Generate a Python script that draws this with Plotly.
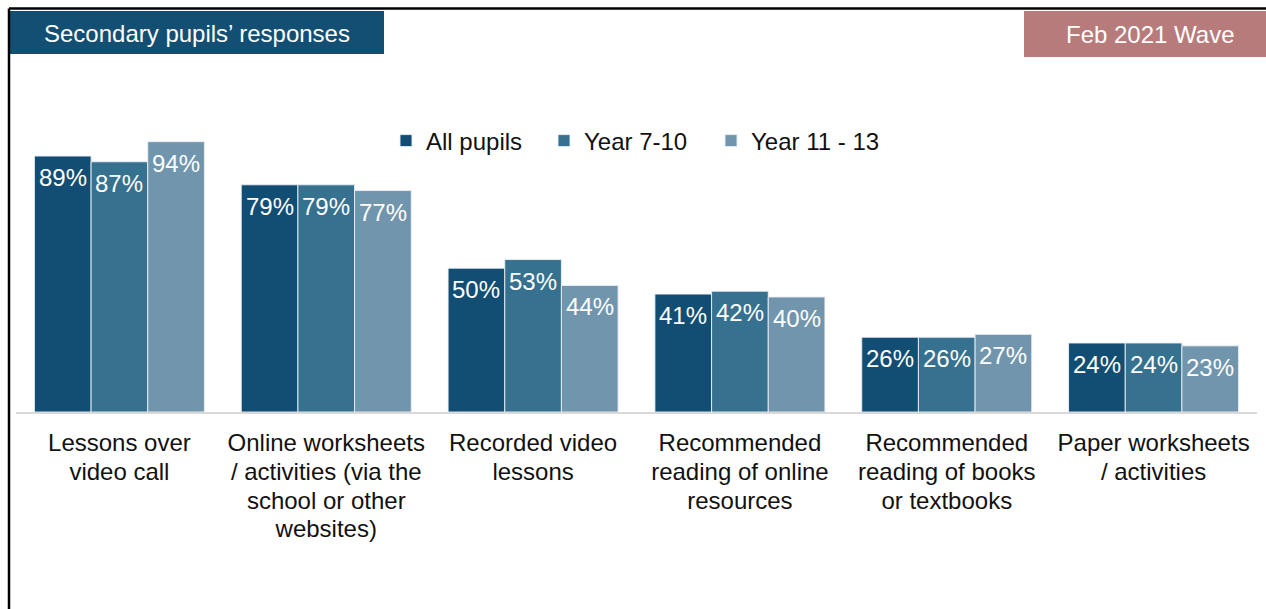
import plotly.graph_objects as go

# Survey categories (line breaks as shown on the axis)
categories = [
    "Lessons over<br>video call",
    "Online worksheets<br>/ activities (via the<br>school or other<br>websites)",
    "Recorded video<br>lessons",
    "Recommended<br>reading of online<br>resources",
    "Recommended<br>reading of books<br>or textbooks",
    "Paper worksheets<br>/ activities",
]

# Share of secondary pupils (%) per group
all_pupils = [89, 79, 50, 41, 26, 24]
year_7_10 = [87, 79, 53, 42, 26, 24]
year_11_13 = [94, 77, 44, 40, 27, 23]

series_names = ["All pupils", "Year 7-10", "Year 11 - 13"]
series_values = [all_pupils, year_7_10, year_11_13]
series_colors = ["#124e73", "#36718f", "#7095ad"]

FONT = "Liberation Sans, Arial, sans-serif"
W, H = 1266, 609

# plot area in pixels
X0, X1 = 16, 1257
Y_BASE, Y_TOP = 412, 124.4
BARGAP = 0.178
bar_px = (X1 - X0) / len(categories) * (1 - BARGAP) / len(series_names)

# legend entry text widths (px)
legend_widths = [113, 122, 140]


def big_lines(label, size=24):
    # larger glyphs while keeping the tighter line pitch of the axis font
    return "<br>".join(f"<span style='font-size:{size}px'>{part}</span>" for part in label.split("<br>"))


fig = go.Figure()
for name, vals, col, lw in zip(series_names, series_values, series_colors, legend_widths):
    fig.add_trace(go.Bar(
        name=name,
        x=categories,
        y=vals,
        marker=dict(color=col, line=dict(color="rgba(235,240,245,0.9)", width=1)),
        legendwidth=lw,
        hoverinfo="skip",
    ))

# value labels just inside the top of each bar
value_labels = []
for k, vals in enumerate(series_values):
    shift = (k - (len(series_values) - 1) / 2) * bar_px
    for cat, v in zip(categories, vals):
        value_labels.append(dict(
            x=cat, y=v, xref="x", yref="y",
            text=f"{v}%", showarrow=False,
            xanchor="center", yanchor="top",
            xshift=shift, yshift=-6,
            font=dict(family=FONT, size=24, color="white"),
        ))

fig.update_layout(
    width=W,
    height=H,
    margin=dict(l=0, r=0, t=0, b=0),
    paper_bgcolor="white",
    plot_bgcolor="white",
    barmode="group",
    bargap=BARGAP,
    bargroupgap=0,
    font=dict(family=FONT, color="#111111"),
    showlegend=True,
    legend=dict(
        orientation="h",
        x=386 / W,
        xanchor="left",
        y=(H - 141) / H,
        yanchor="middle",
        entrywidthmode="pixels",
        bgcolor="rgba(0,0,0,0)",
        font=dict(family=FONT, size=24, color="#111111"),
        itemclick=False,
        itemdoubleclick=False,
    ),
    xaxis=dict(
        domain=[X0 / W, X1 / W],
        showline=True,
        linecolor="#d9d9d9",
        linewidth=2,
        showgrid=False,
        ticks="",
        tickmode="array",
        tickvals=categories,
        ticktext=[big_lines(c) for c in categories],
        tickfont=dict(family=FONT, size=22, color="#111111"),
        ticklabelstandoff=11,
        fixedrange=True,
    ),
    yaxis=dict(
        domain=[(H - Y_BASE) / H, (H - Y_TOP) / H],
        range=[0, 100],
        visible=False,
        showgrid=False,
        fixedrange=True,
    ),
    shapes=[
        # frame lines along the top and left edges
        dict(type="line", xref="paper", yref="paper", x0=9 / W, x1=1, y0=(H - 8.5) / H, y1=(H - 8.5) / H,
             line=dict(color="black", width=2.5)),
        dict(type="line", xref="paper", yref="paper", x0=9 / W, x1=9 / W, y0=0, y1=(H - 8.5) / H,
             line=dict(color="black", width=2.5)),
        # header boxes
        dict(type="rect", xref="paper", yref="paper", x0=10 / W, x1=384 / W, y0=(H - 54) / H, y1=(H - 11) / H,
             fillcolor="#134f73", line=dict(width=0), layer="below"),
        dict(type="rect", xref="paper", yref="paper", x0=1024 / W, x1=1, y0=(H - 57) / H, y1=(H - 11) / H,
             fillcolor="#b77b7c", line=dict(width=0), layer="below"),
    ],
    annotations=value_labels + [
        dict(text="Secondary pupils\u2019 responses", xref="paper", yref="paper",
             x=197 / W, y=(H - 33) / H, xanchor="center", yanchor="middle", showarrow=False,
             font=dict(family=FONT, size=24, color="white")),
        dict(text="Feb 2021 Wave", xref="paper", yref="paper",
             x=1150 / W, y=(H - 34) / H, xanchor="center", yanchor="middle", showarrow=False,
             font=dict(family=FONT, size=24, color="white")),
    ],
)

fig.write_html("out.html", config={"displayModeBar": False})
